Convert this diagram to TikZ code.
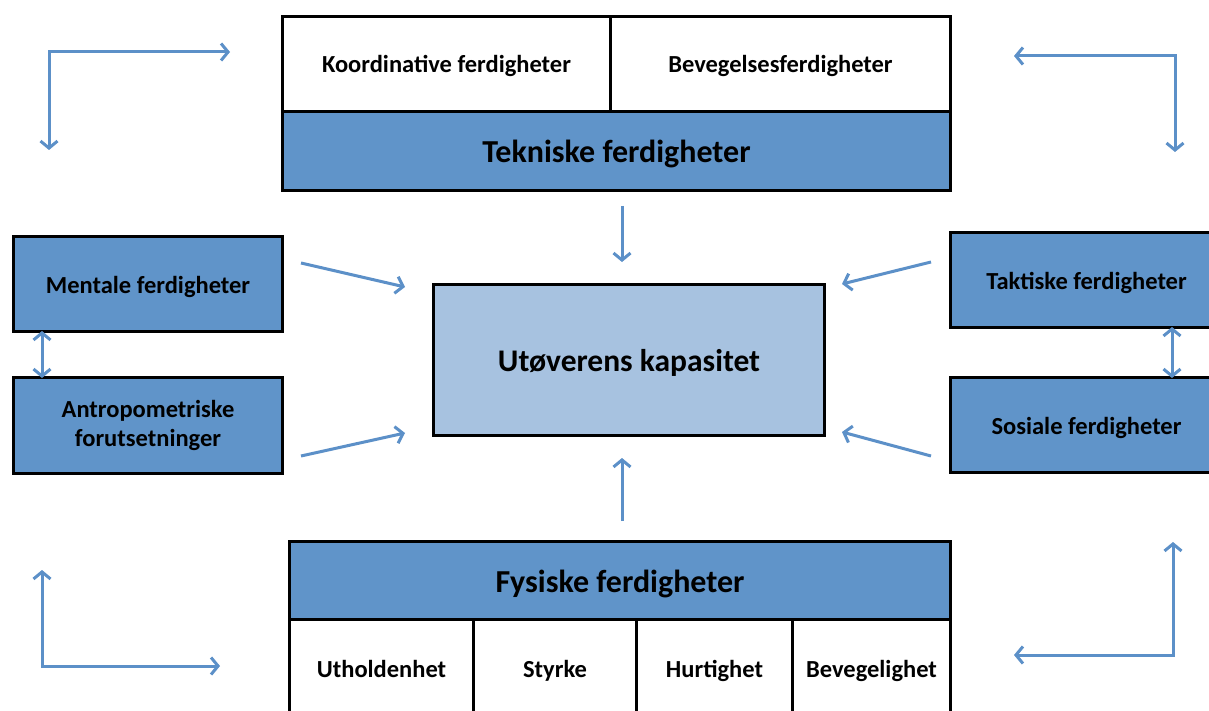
\documentclass[tikz,border=0pt]{standalone}
\usepackage{fontspec}
\setmainfont{Carlito}
\usetikzlibrary{arrows.meta}
\definecolor{boxblue}{RGB}{96,148,201}
\definecolor{lightblue}{RGB}{167,194,224}
\definecolor{arrowblue}{RGB}{92,144,200}
\tikzset{
  cell/.style={draw=black, line width=3pt, inner sep=0pt, anchor=north west, align=center, text height=18pt, text depth=0pt, font=\bfseries\fontsize{24.5}{29}\selectfont},
  wcell/.style={cell, fill=white},
  bcell/.style={cell, fill=boxblue},
  bighead/.style={text height=23.5pt, font=\bfseries\fontsize{32}{36}\selectfont},
  twoline/.style={text height={}, text depth={}},
  arr/.style={draw=arrowblue, line width=3pt, -{Straight Barb[length=7pt,width=17pt]}},
  darr/.style={draw=arrowblue, line width=3pt, {Straight Barb[length=7pt,width=17pt]}-{Straight Barb[length=7pt,width=17pt]}},
}
\begin{document}
\begin{tikzpicture}[x=1pt,y=-1pt]
\clip (0,0) rectangle (1209,711);
\fill[white] (0,0) rectangle (1209,711);
% top block
\node[wcell, minimum width=328pt, minimum height=95pt] (koord) at (281,15) {Koordinative ferdigheter};
\node[wcell, minimum width=340pt, minimum height=95pt] (beveg) at (609,15) {Bevegelsesferdigheter};
\node[bcell, bighead, minimum width=668pt, minimum height=79pt] (tekn) at (281,110) {Tekniske ferdigheter};
% side boxes
\node[bcell, minimum width=269pt, minimum height=95pt] (ment) at (12,235) {Mentale ferdigheter};
\node[bcell, twoline, minimum width=269pt, minimum height=96pt] (antro) at (12,376) {Antropometriske\\forutsetninger};
\node[bcell, minimum width=272pt, minimum height=95pt] (takt) at (949,231) {Taktiske ferdigheter};
\node[bcell, minimum width=272pt, minimum height=95pt] (sos) at (949,376) {Sosiale ferdigheter};
% centre
\node[cell, fill=lightblue, text height=23pt, font=\bfseries\fontsize{31.5}{36}\selectfont, minimum width=391pt, minimum height=151pt] (cap) at (432,283) {Utøverens kapasitet};
% bottom block
\node[bcell, bighead, minimum width=661pt, minimum height=78pt] (fys) at (288,540) {Fysiske ferdigheter};
\node[wcell, minimum width=184pt, minimum height=98pt] (uth) at (288,618) {Utholdenhet};
\node[wcell, minimum width=163pt, minimum height=98pt] (sty) at (472,618) {Styrke};
\node[wcell, minimum width=156pt, minimum height=98pt] (hur) at (635,618) {Hurtighet};
\node[wcell, minimum width=158pt, minimum height=98pt] (bev) at (791,618) {Bevegelighet};
% arrow end points
\coordinate (t1) at (622,206); \coordinate (t2) at (622,262);
\coordinate (f1) at (622,521); \coordinate (f2) at (622,458);
\coordinate (m1) at (301,263); \coordinate (m2) at (405,287);
\coordinate (a1) at (301,456); \coordinate (a2) at (405,433);
\coordinate (k1) at (931,262); \coordinate (k2) at (842,284);
\coordinate (s1) at (931,456); \coordinate (s2) at (842,432);
\coordinate (tl1) at (49,150); \coordinate (tl0) at (49,52); \coordinate (tl2) at (230,52);
\coordinate (tr1) at (1175,152); \coordinate (tr0) at (1175,56); \coordinate (tr2) at (1014,56);
\coordinate (bl1) at (42,570); \coordinate (bl0) at (42,666); \coordinate (bl2) at (220,666);
\coordinate (br1) at (1173,542); \coordinate (br0) at (1173,655); \coordinate (br2) at (1014,655);
% connectors
\draw[arr] (t1) -- (t2);
\draw[arr] (f1) -- (f2);
\draw[arr] (m1) -- (m2);
\draw[arr] (a1) -- (a2);
\draw[arr] (k1) -- (k2);
\draw[arr] (s1) -- (s2);
\draw[darr] (tl1) -- (tl0) -- (tl2);
\draw[darr] (tr2) -- (tr0) -- (tr1);
\draw[darr] (bl1) -- (bl0) -- (bl2);
\draw[darr] (br1) -- (br0) -- (br2);
\draw[darr] ([yshift=2pt]ment.south west -| 42,0) -- ([yshift=-2pt]antro.north west -| 42,0);
\draw[darr] ([yshift=2pt]takt.south west -| 1172,0) -- ([yshift=-2pt]sos.north west -| 1172,0);
\end{tikzpicture}
\end{document}
